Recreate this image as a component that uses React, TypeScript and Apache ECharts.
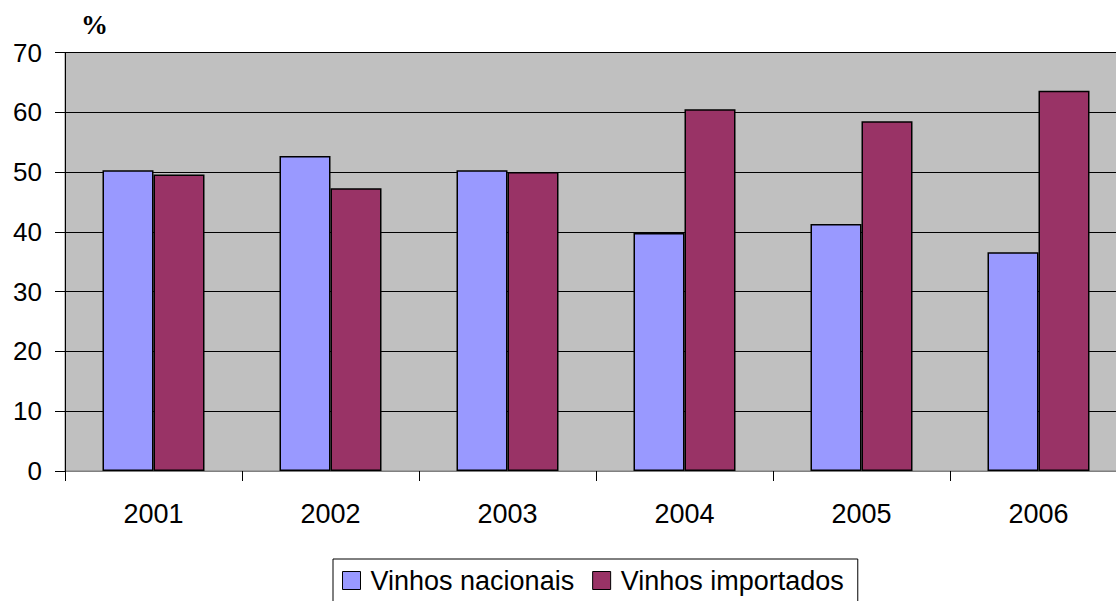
import React, { useEffect, useRef } from "react";
import * as echarts from "echarts";

const categories = ["2001", "2002", "2003", "2004", "2005", "2006"];
const nacionais = [50.3, 52.7, 50.3, 39.8, 41.3, 36.6];
const importados = [49.6, 47.3, 50.0, 60.5, 58.5, 63.6];
const seriesNames = ["Vinhos nacionais", "Vinhos importados"];

export default function App() {
  const ref = useRef<HTMLDivElement>(null);
  useEffect(() => {
    document.body.style.margin = "0";
    const chart = echarts.init(ref.current!, null, { renderer: "svg" });
    chart.setOption({
      animation: false,
      textStyle: { fontFamily: "Liberation Sans, Arial, sans-serif" },
      graphic: [
        {
          type: "text",
          left: 81,
          top: 11,
          style: {
            text: "%",
            font: "bold 27px 'Liberation Serif', 'Times New Roman', serif",
            fill: "#000",
          },
        },
      ],
      grid: {
        left: 65,
        width: 1062,
        top: 52.5,
        bottom: 130,
        outerBoundsMode: "none",
        containLabel: false,
        show: true,
        backgroundColor: "#C0C0C0",
        borderColor: "#808080",
        borderWidth: 1,
      },
      legend: {
        data: seriesNames,
        left: 333,
        top: 559,
        orient: "horizontal",
        icon: "rect",
        itemWidth: 18,
        itemHeight: 18,
        itemGap: 18,
        padding: [8, 14, 12, 9],
        borderColor: "#000",
        borderWidth: 1,
        backgroundColor: "#fff",
        itemStyle: { borderColor: "#000", borderWidth: 1 },
        textStyle: {
          fontSize: 27,
          color: "#000",
          fontFamily: "Liberation Sans, Arial, sans-serif",
          padding: [0, 0, 0, 5],
        },
      },
      xAxis: {
        type: "category",
        data: categories,
        axisLine: { show: true, lineStyle: { color: "#808080", width: 1 } },
        axisTick: {
          show: true,
          alignWithLabel: false,
          length: 10,
          lineStyle: { color: "#000" },
        },
        axisLabel: {
          fontSize: 27,
          color: "#000",
          margin: 29,
          fontFamily: "Liberation Sans, Arial, sans-serif",
        },
        splitLine: { show: false },
      },
      yAxis: {
        type: "value",
        min: 0,
        max: 70,
        interval: 10,
        axisLine: { show: true, lineStyle: { color: "#000", width: 1 } },
        axisTick: { show: true, length: 10, lineStyle: { color: "#000" } },
        axisLabel: {
          fontSize: 26,
          color: "#000",
          margin: 23,
          fontFamily: "Liberation Sans, Arial, sans-serif",
        },
        splitLine: { show: true, lineStyle: { color: "#000", width: 1 } },
      },
      series: [
        {
          name: seriesNames[0],
          type: "bar",
          data: nacionais,
          barWidth: 51,
          barGap: "0%",
          itemStyle: { color: "#9999FF", borderColor: "#000", borderWidth: 1.5 },
        },
        {
          name: seriesNames[1],
          type: "bar",
          data: importados,
          barWidth: 51,
          barGap: "0%",
          itemStyle: { color: "#993366", borderColor: "#000", borderWidth: 1.5 },
        },
      ],
    });
    return () => chart.dispose();
  }, []);
  return (
    <div
      ref={ref}
      style={{ position: "absolute", left: 0, top: 0, width: 1116, height: 601 }}
    />
  );
}
